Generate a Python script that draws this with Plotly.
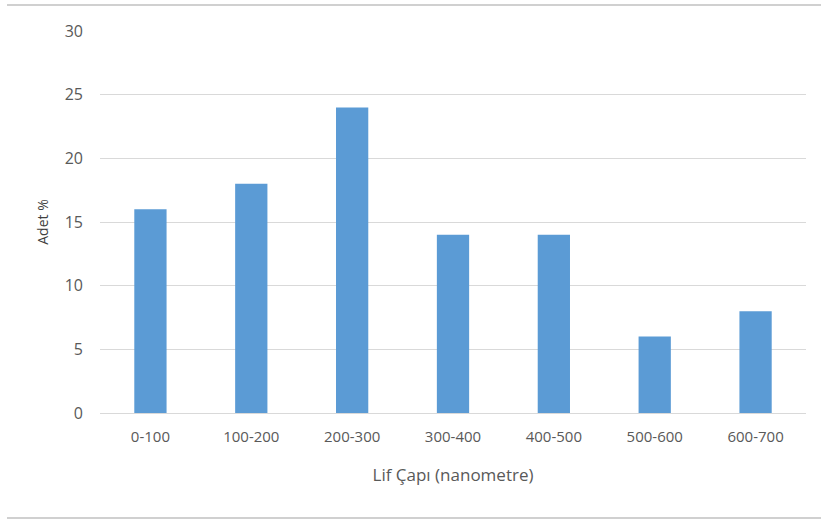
import plotly.graph_objects as go

categories = ["0-100", "100-200", "200-300", "300-400", "400-500", "500-600", "600-700"]
values = [16, 18, 24, 14, 14, 6, 8]

W, H = 821, 520
L, R, T, B = 100, 15, 31, 107
pw = W - L - R
ph = H - T - B

fig = go.Figure(go.Bar(x=categories, y=values, marker=dict(color="#5B9BD5", line=dict(width=0))))

fig.update_layout(
    width=W, height=H,
    margin=dict(l=L, r=R, t=T, b=B),
    paper_bgcolor="white", plot_bgcolor="white",
    bargap=0.68,
    showlegend=False,
    font=dict(family="Open Sans, Liberation Sans, sans-serif", color="#595959"),
    xaxis=dict(
        title=dict(text="Lif Çapı (nanometre)", font=dict(size=17, color="#595959"), standoff=24),
        tickfont=dict(size=15, color="#595959"),
        showline=False, showgrid=False, zeroline=False,
        ticks="", ticklabelstandoff=13,
    ),
    yaxis=dict(
        title=dict(text="Adet %", font=dict(size=14, color="#404040"), standoff=12),
        range=[0, 30], dtick=5,
        tickfont=dict(size=16, color="#595959"),
        showgrid=True, gridcolor="#D9D9D9", gridwidth=1,
        zeroline=True, zerolinecolor="#D9D9D9", zerolinewidth=1,
        showline=False, ticks="", ticklabelstandoff=16,
    ),
    shapes=[
        dict(type="line", xref="paper", yref="paper",
             x0=(7 - L) / pw, x1=(W - L) / pw, y0=(H - B - 5) / ph, y1=(H - B - 5) / ph,
             line=dict(color="#D0D0D0", width=2)),
        dict(type="line", xref="paper", yref="paper",
             x0=(7 - L) / pw, x1=(W - L) / pw, y0=(H - B - 518) / ph, y1=(H - B - 518) / ph,
             line=dict(color="#D0D0D0", width=2)),
    ],
)

fig.write_html("out.html")
